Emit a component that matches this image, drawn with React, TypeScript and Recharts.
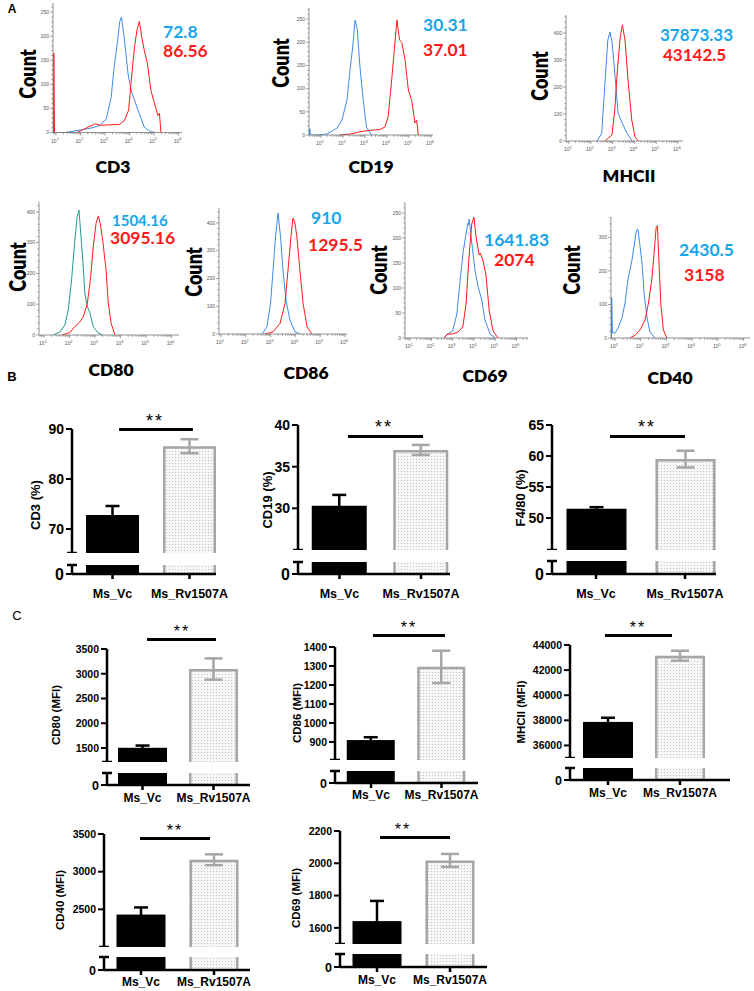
import React from 'react';
import { LineChart, Line, XAxis, YAxis, BarChart, Bar, ErrorBar } from 'recharts';

type Pt = [number, number];

// ---------------- Panel A : flow histograms, points are [log10(fluorescence), count]
const cd3Vc: Pt[] = [[0.88,0],[1.37,0],[2.1,6],[2.5,10],[2.8,15],[3.05,28],[3.25,73],[3.37,135],[3.5,185],[3.6,230],[3.67,240],[3.78,198],[3.94,122],[4.06,88],[4.35,46],[4.6,11],[4.85,2],[5.05,0]];
const cd3Rv: Pt[] = [[0.9,0],[0.91,165],[0.94,0],[1.86,0],[2.26,10],[2.6,18],[2.8,15],[3.2,16],[3.6,17],[3.8,25],[3.96,46],[4.06,102],[4.2,177],[4.3,212],[4.4,231],[4.5,198],[4.6,171],[4.73,143],[4.87,88],[5.02,60],[5.16,35],[5.22,40],[5.28,0]];
const cd19Vc: Pt[] = [[0.48,0],[0.49,14],[0.52,0],[0.8,0],[1.27,2],[1.73,15],[1.95,32],[2.18,75],[2.32,140],[2.44,190],[2.55,248],[2.65,228],[2.77,147],[2.92,75],[3.07,17],[3.3,0]];
const cd19Rv: Pt[] = [[1.86,0],[2.32,2],[2.77,7],[3.23,10],[3.68,12],[3.9,17],[4.05,39],[4.2,112],[4.33,183],[4.45,248],[4.57,205],[4.67,200],[4.82,162],[4.97,97],[5.12,75],[5.27,26],[5.35,32],[5.42,0]];
const mhcVc: Pt[] = [[2.28,0],[2.5,28],[2.65,215],[2.78,374],[2.88,404],[2.98,363],[3.1,252],[3.25,104],[3.38,78],[3.48,60],[3.65,30],[3.9,0]];
const mhcRv: Pt[] = [[2.65,0],[2.97,22],[3.1,115],[3.23,274],[3.35,385],[3.45,430],[3.57,374],[3.72,215],[3.88,78],[4.03,15],[4.18,0]];
const cd80Vc: Pt[] = [[1.36,0],[1.63,10],[1.82,33],[1.95,81],[2.08,179],[2.2,299],[2.3,384],[2.37,406],[2.41,363],[2.52,244],[2.6,137],[2.7,91],[2.8,72],[2.93,27],[3.13,6],[3.3,0]];
const cd80Rv: Pt[] = [[1.7,0],[2.02,8],[2.2,27],[2.4,42],[2.54,59],[2.7,103],[2.83,190],[2.93,287],[3.04,363],[3.13,387],[3.2,363],[3.3,309],[3.43,212],[3.52,103],[3.63,38],[3.78,0]];
const cd86Vc: Pt[] = [[2.65,0],[2.85,25],[3.0,112],[3.1,232],[3.2,352],[3.3,436],[3.4,350],[3.5,230],[3.62,122],[3.78,50],[3.98,8],[4.18,0]];
const cd86Rv: Pt[] = [[2.78,0],[3.1,8],[3.38,38],[3.58,110],[3.7,230],[3.82,350],[3.9,418],[3.98,400],[4.06,350],[4.18,230],[4.31,110],[4.47,25],[4.67,0]];
const cd69Vc: Pt[] = [[2.6,0],[2.78,8],[3.0,14],[3.2,48],[3.35,114],[3.5,174],[3.67,218],[3.72,230],[3.75,226],[3.78,238],[3.9,190],[4.05,136],[4.2,102],[4.37,76],[4.52,36],[4.76,8],[5.0,0]];
const cd69Rv: Pt[] = [[2.6,0],[2.75,8],[3.0,8],[3.25,12],[3.48,22],[3.63,68],[3.78,168],[3.9,228],[4.0,242],[4.1,202],[4.25,166],[4.3,170],[4.42,156],[4.56,128],[4.72,54],[4.9,14],[5.13,0]];
const cd40Vc: Pt[] = [[0.86,0],[0.87,120],[0.9,15],[1.0,15],[1.12,30],[1.27,60],[1.39,104],[1.5,173],[1.66,233],[1.74,272],[1.82,316],[1.87,325],[1.9,322],[1.93,302],[2.05,224],[2.13,134],[2.24,63],[2.36,18],[2.56,0]];
const cd40Rv: Pt[] = [[1.58,0],[1.78,8],[1.97,24],[2.17,54],[2.3,104],[2.43,173],[2.52,253],[2.6,331],[2.65,335],[2.7,243],[2.78,104],[2.88,24],[3.02,0]];

const histTitles = ['CD3', 'CD19', 'MHCII', 'CD80', 'CD86', 'CD69', 'CD40'];
const mfiVc = ['72.8', '30.31', '37873.33', '1504.16', '910', '1641.83', '2430.5'];
const mfiRv = ['86.56', '37.01', '43142.5', '3095.16', '1295.5', '2074', '3158'];

// ---------------- Panels B & C : bar charts
const groups = ['Ms_Vc', 'Ms_Rv1507A'];
const cd3Pct = [72.8, 86.56];
const cd3PctErr = [1.8, 1.4];
const cd19Pct = [30.31, 37.01];
const cd19PctErr = [1.3, 0.6];
const f480Pct = [51.5, 59.5];
const f480PctErr = [0.25, 1.35];
const cd80Mfi = [1504.16, 3095.16];
const cd80MfiErr = [45, 215];
const cd86Mfi = [910, 1295.5];
const cd86MfiErr = [15, 85];
const mhcMfi = [37873.33, 43142.5];
const mhcMfiErr = [330, 400];
const cd40Mfi = [2430.5, 3158];
const cd40MfiErr = [95, 72];
const cd69Mfi = [1641.83, 2018];
const cd69MfiErr = [125, 40];

const ARIAL = "'Liberation Sans', Arial, sans-serif";
const LATO = "Lato, 'Open Sans', sans-serif";
const BLUE_TXT = '#17A6EA';
const RED = '#FF1A1A';
const BLUE_LINE = '#3A8BEA';
const TEAL = '#1D9C8D';
const GRAY = '#A6A6A6';

const logTicks = (lo: number, hi: number) => {
  const out: number[] = [];
  for (let n = Math.floor(lo); n <= Math.ceil(hi); n++) {
    for (let k = 1; k <= 9; k++) {
      const v = n + Math.log10(k);
      if (v >= lo && v <= hi) out.push(v);
    }
  }
  return out;
};
const linTicks = (max: number, step: number) => {
  const out: number[] = [];
  for (let v = 0; v <= max + 1e-9; v += step) out.push(v);
  return out;
};
const toXY = (p: Pt) => ({ x: p[0], y: p[1] });

const histXTick = (p: any) => {
  const v = p.payload.value;
  const major = Math.abs(v - Math.round(v)) < 1e-6;
  return (
    <g>
      <line x1={p.x} x2={p.x} y1={p.y} y2={p.y + (major ? 3 : 1.8)} stroke="#777" strokeWidth={0.7} />
      {major && (
        <text x={p.x - 1} y={p.y + 10} textAnchor="middle" fontSize={5} fill="#555" fontFamily={ARIAL}>
          10<tspan dy={-2.5} fontSize={4}>{Math.round(v)}</tspan>
        </text>
      )}
    </g>
  );
};
const histYTick = (major: number) => (p: any) => {
  const v = p.payload.value;
  const isMajor = Math.abs(v / major - Math.round(v / major)) < 1e-6;
  return (
    <g>
      <line x1={p.x} x2={p.x - (isMajor ? 3 : 1.6)} y1={p.y} y2={p.y} stroke="#777" strokeWidth={0.7} />
      {isMajor && (
        <text x={p.x - 4} y={p.y} dy="0.35em" textAnchor="end" fontSize={5} fill="#555" fontFamily={ARIAL}>
          {v}
        </text>
      )}
    </g>
  );
};

type HistCfg = {
  vc: Pt[]; rv: Pt[]; vcColor: string;
  x0: number; x1: number; yTop: number; yBot: number;
  logLo: number; logHi: number; yMax: number; yStep: number; yMinor: number;
  count: [number, number]; title: [number, number];
  nVc: [number, number, number]; nRv: [number, number, number];
};

const hists: HistCfg[] = [
  { vc: cd3Vc, rv: cd3Rv, vcColor: BLUE_LINE, x0: 53, x1: 182, yTop: 3, yBot: 132.5, logLo: 0.878, logHi: 6.14, yMax: 269, yStep: 50, yMinor: 10, count: [27, 74], title: [113, 167], nVc: [163, 32, 17.5], nRv: [163, 51, 17.5] },
  { vc: cd19Vc, rv: cd19Rv, vcColor: BLUE_LINE, x0: 309, x1: 433, yTop: 8, yBot: 135, logLo: 0.455, logHi: 6.09, yMax: 274, yStep: 50, yMinor: 10, count: [280, 63], title: [371, 167], nVc: [423, 25, 17.5], nRv: [423, 50, 17.5] },
  { vc: mhcVc, rv: mhcRv, vcColor: BLUE_LINE, x0: 566, x1: 683, yTop: 15, yBot: 141, logLo: 0.862, logHi: 6.23, yMax: 467, yStep: 100, yMinor: 20, count: [539, 76], title: [629, 176], nVc: [660, 34, 17], nRv: [663, 54, 17] },
  { vc: cd80Vc, rv: cd80Rv, vcColor: TEAL, x0: 39, x1: 179, yTop: 202, yBot: 335, logLo: 0.804, logHi: 6.29, yMax: 432, yStep: 100, yMinor: 20, count: [17, 267], title: [111, 370], nVc: [112, 220, 15], nRv: [110, 238, 17.5] },
  { vc: cd86Vc, rv: cd86Rv, vcColor: BLUE_LINE, x0: 219, x1: 347, yTop: 208, yBot: 334, logLo: 0.919, logHi: 6.08, yMax: 454, yStep: 100, yMinor: 20, count: [193, 272], title: [306, 373], nVc: [311, 218, 17.5], nRv: [308, 245, 17.5] },
  { vc: cd69Vc, rv: cd69Rv, vcColor: BLUE_LINE, x0: 405, x1: 528, yTop: 203, yBot: 338, logLo: 0.765, logHi: 6.54, yMax: 270, yStep: 50, yMinor: 10, count: [378, 270], title: [485, 376], nVc: [484, 240, 17.5], nRv: [494, 260, 17.5] },
  { vc: cd40Vc, rv: cd40Rv, vcColor: BLUE_LINE, x0: 611, x1: 750, yTop: 217, yBot: 338, logLo: 0.844, logHi: 6.25, yMax: 361, yStep: 100, yMinor: 20, count: [571, 270], title: [670, 378], nVc: [679, 250, 17.5], nRv: [684, 275, 17.5] },
];

function VText({ x, y, children, style }: any) {
  return (
    <div style={{ position: 'absolute', left: x, top: y, transform: 'translate(-50%,-50%) rotate(-90deg)', whiteSpace: 'nowrap', lineHeight: 1, ...style }}>
      {children}
    </div>
  );
}
function CText({ x, y, children, style }: any) {
  return (
    <div style={{ position: 'absolute', left: x, top: y, transform: 'translate(-50%,-50%)', whiteSpace: 'nowrap', lineHeight: 1, ...style }}>
      {children}
    </div>
  );
}
function LText({ x, y, children, style }: any) {
  return (
    <div style={{ position: 'absolute', left: x, top: y, transform: 'translateY(-50%)', whiteSpace: 'nowrap', lineHeight: 1, ...style }}>
      {children}
    </div>
  );
}

function Hist({ c, i }: { c: HistCfg; i: number }) {
  const YW = 22, XH = 16, MT = 4, MR = 3;
  const w = YW + (c.x1 - c.x0) + MR;
  const h = MT + (c.yBot - c.yTop) + XH;
  return (
    <>
      <div style={{ position: 'absolute', left: c.x0 - YW, top: c.yTop - MT }}>
        <LineChart width={w} height={h} margin={{ top: MT, right: MR, left: 0, bottom: 0 }}>
          <XAxis type="number" dataKey="x" domain={[c.logLo, c.logHi]} allowDataOverflow ticks={logTicks(c.logLo, c.logHi)} interval={0}
            tick={histXTick} tickLine={false} tickSize={0} tickMargin={0} height={XH} axisLine={{ stroke: '#777', strokeWidth: 0.8 }} />
          <YAxis type="number" domain={[0, c.yMax]} allowDataOverflow ticks={linTicks(c.yMax, c.yMinor)} interval={0}
            tick={histYTick(c.yStep)} tickLine={false} tickSize={0} tickMargin={0} width={YW} axisLine={{ stroke: '#777', strokeWidth: 0.8 }} />
          <Line data={c.vc.map(toXY)} dataKey="y" type="linear" stroke={c.vcColor} strokeWidth={1} dot={false} isAnimationActive={false} />
          <Line data={c.rv.map(toXY)} dataKey="y" type="linear" stroke={RED} strokeWidth={1} dot={false} isAnimationActive={false} />
        </LineChart>
      </div>
      <VText x={c.count[0]} y={c.count[1]} style={{ fontFamily: LATO, fontWeight: 800, fontSize: 18, transform: 'translate(-50%,-50%) rotate(-90deg) scaleY(1.3)' }}>Count</VText>
      <CText x={c.title[0]} y={c.title[1]} style={{ fontFamily: LATO, fontWeight: 800, fontSize: 17.5 }}>{histTitles[i]}</CText>
      <LText x={c.nVc[0]} y={c.nVc[1]} style={{ fontFamily: LATO, fontWeight: 700, fontSize: c.nVc[2], color: BLUE_TXT }}>{mfiVc[i]}</LText>
      <LText x={c.nRv[0]} y={c.nRv[1]} style={{ fontFamily: LATO, fontWeight: 700, fontSize: c.nRv[2], color: RED }}>{mfiRv[i]}</LText>
    </>
  );
}

type BarCfg = {
  label: string; vals: number[]; errs: number[];
  axisX: number; c1: number; c2: number; xEnd: number; barSize: number;
  upTop: number; upBot: number; upDomain: [number, number]; upTicks: number[];
  loTop: number; loBase: number;
  tickFs: number; catFs: number; catOff: number;
  yLab: [number, number, number, number]; sig: [number, number, number]; stars: [number, number, number];
};

const bars: BarCfg[] = [
  { label: 'CD3 (%)', vals: cd3Pct, errs: cd3PctErr, axisX: 72, c1: 112.5, c2: 189.5, xEnd: 216, barSize: 53, upTop: 429, upBot: 553, upDomain: [65.2, 90], upTicks: [70, 80, 90], loTop: 565, loBase: 574, tickFs: 14, catFs: 12.5, catOff: 19, yLab: [35, 505, 13, 700], sig: [119, 193, 429], stars: [155, 421, 18] },
  { label: 'CD19 (%)', vals: cd19Pct, errs: cd19PctErr, axisX: 298, c1: 339.5, c2: 421, xEnd: 450, barSize: 55, upTop: 425, upBot: 550, upDomain: [25, 40], upTicks: [30, 35, 40], loTop: 562, loBase: 574, tickFs: 14, catFs: 12.5, catOff: 19, yLab: [267, 500, 13, 700], sig: [348, 423, 436], stars: [384, 427, 18] },
  { label: 'F4/80 (%)', vals: f480Pct, errs: f480PctErr, axisX: 552, c1: 596, c2: 685, xEnd: 716, barSize: 60, upTop: 425, upBot: 550, upDomain: [44.84, 65], upTicks: [50, 55, 60, 65], loTop: 561, loBase: 574, tickFs: 14, catFs: 12.5, catOff: 19, yLab: [520, 498, 13, 700], sig: [610, 685, 436], stars: [647, 427, 18] },
  { label: 'CD80 (MFI)', vals: cd80Mfi, errs: cd80MfiErr, axisX: 107, c1: 142.5, c2: 213.5, xEnd: 250, barSize: 49, upTop: 649, upBot: 762, upDomain: [1217, 3500], upTicks: [1500, 2000, 2500, 3000, 3500], loTop: 773, loBase: 785, tickFs: 10.5, catFs: 12, catOff: 13, yLab: [57, 715, 11.5, 700], sig: [147, 216, 639], stars: [182, 632, 16] },
  { label: 'CD86 (MFI)', vals: cd86Mfi, errs: cd86MfiErr, axisX: 335, c1: 371, c2: 441.5, xEnd: 478, barSize: 48, upTop: 647, upBot: 760, upDomain: [805, 1400], upTicks: [900, 1000, 1100, 1200, 1300, 1400], loTop: 771, loBase: 783, tickFs: 10.5, catFs: 12, catOff: 12, yLab: [298, 713, 11.5, 700], sig: [373, 445, 635], stars: [409, 628, 16] },
  { label: 'MHCII (MFI)', vals: mhcMfi, errs: mhcMfiErr, axisX: 570, c1: 608, c2: 680, xEnd: 730, barSize: 50, upTop: 645, upBot: 758, upDomain: [35000, 44000], upTicks: [36000, 38000, 40000, 42000, 44000], loTop: 768, loBase: 780, tickFs: 10.5, catFs: 12, catOff: 13, yLab: [522, 712, 11.5, 700], sig: [605, 672, 635], stars: [638, 628, 16] },
  { label: 'CD40 (MFI)', vals: cd40Mfi, errs: cd40MfiErr, axisX: 104, c1: 141, c2: 214, xEnd: 250, barSize: 49, upTop: 834, upBot: 947, upDomain: [2000, 3500], upTicks: [2500, 3000, 3500], loTop: 957, loBase: 970, tickFs: 10.5, catFs: 12, catOff: 12, yLab: [61, 900, 11.5, 700], sig: [140, 210, 838], stars: [175, 831, 16] },
  { label: 'CD69 (MFI)', vals: cd69Mfi, errs: cd69MfiErr, axisX: 340, c1: 377, c2: 450, xEnd: 487, barSize: 49, upTop: 831, upBot: 944, upDomain: [1500, 2200], upTicks: [1600, 1800, 2000, 2200], loTop: 954, loBase: 967, tickFs: 10.5, catFs: 12, catOff: 13, yLab: [297, 898, 11.5, 700], sig: [380, 450, 837], stars: [403, 830, 16] },
];

const barShape = (p: any) => {
  const { x, y, width, height, payload } = p;
  if (!(height > 0)) return <g />;
  if (payload && payload.g === groups[0]) {
    return <rect x={x} y={y} width={width} height={height} fill="#000" />;
  }
  const s = 1.25;
  const d = `M${x + s},${y + height} L${x + s},${y + s} L${x + width - s},${y + s} L${x + width - s},${y + height}`;
  return (
    <g>
      <rect x={x} y={y} width={width} height={height} fill="url(#dotfill)" />
      <path d={d} fill="none" stroke={GRAY} strokeWidth={2.5} />
    </g>
  );
};

const barYTick = (breakVal: number, fs: number) => (p: any) => {
  const v = p.payload.value;
  if (Math.abs(v - breakVal) < 1e-9) {
    return <line x1={p.x - 5} x2={p.x + 5} y1={p.y} y2={p.y} stroke="#000" strokeWidth={2.5} />;
  }
  return (
    <g>
      <line x1={p.x} x2={p.x - 6} y1={p.y} y2={p.y} stroke="#000" strokeWidth={2} />
      <text x={p.x - 8} y={p.y} dy="0.36em" textAnchor="end" fontSize={fs} fontWeight="bold" fontFamily={ARIAL} fill="#000">
        {v}
      </text>
    </g>
  );
};
const barXTick = (fs: number, off: number) => (p: any) => (
  <g>
    <line x1={p.x} x2={p.x} y1={p.y} y2={p.y + 5} stroke="#000" strokeWidth={2.5} />
    <text x={p.x} y={p.y + off} dy="0.36em" textAnchor="middle" fontSize={fs} fontWeight="bold" fontFamily={ARIAL} fill="#000">
      {p.payload.value}
    </text>
  </g>
);

function BrokenBar({ c }: { c: BarCfg }) {
  const YW = 60, MT = 12, MR = 40, XH = 34, LO = 1;
  const bw = c.c2 - c.c1;
  const padL = c.c1 - bw / 2 - c.axisX;
  const padR = c.xEnd - (c.c2 + bw / 2);
  const rows = groups.map((g, i) => ({
    g,
    v: c.vals[i],
    eVc: i === 0 ? c.errs[0] : undefined,
    eRv: i === 1 ? c.errs[1] : undefined,
  }));
  const W = YW + (c.xEnd - c.axisX) + MR;
  return (
    <>
      <div style={{ position: 'absolute', left: c.axisX - YW, top: c.upTop - MT }}>
        <BarChart width={W} height={MT + (c.upBot - c.upTop)} data={rows} margin={{ top: MT, right: MR, left: 0, bottom: 0 }}>
          <XAxis dataKey="g" hide padding={{ left: padL, right: padR }} />
          <YAxis type="number" width={YW} domain={c.upDomain} allowDataOverflow ticks={[c.upDomain[0], ...c.upTicks]} interval={0}
            tick={barYTick(c.upDomain[0], c.tickFs)} tickLine={false} tickSize={0} tickMargin={0} axisLine={{ stroke: '#000', strokeWidth: 2.5 }} />
          <Bar dataKey="v" barSize={c.barSize} shape={barShape} isAnimationActive={false}>
            <ErrorBar dataKey="eVc" width={7} stroke="#000" strokeWidth={2.5} />
            <ErrorBar dataKey="eRv" width={9} stroke={GRAY} strokeWidth={2.5} />
          </Bar>
        </BarChart>
      </div>
      <div style={{ position: 'absolute', left: c.axisX - YW, top: c.loTop - MT }}>
        <BarChart width={W} height={MT + (c.loBase - c.loTop) + XH} data={rows} margin={{ top: MT, right: MR, left: 0, bottom: 0 }}>
          <XAxis dataKey="g" padding={{ left: padL, right: padR }} height={XH} interval={0} tick={barXTick(c.catFs, c.catOff)}
            tickLine={false} tickSize={0} tickMargin={0} axisLine={{ stroke: '#000', strokeWidth: 2.5 }} />
          <YAxis type="number" width={YW} domain={[0, LO]} allowDataOverflow ticks={[0, LO]} interval={0}
            tick={barYTick(LO, c.tickFs + 2)} tickLine={false} tickSize={0} tickMargin={0} axisLine={{ stroke: '#000', strokeWidth: 2.5 }} />
          <Bar dataKey="v" barSize={c.barSize} shape={barShape} isAnimationActive={false} />
        </BarChart>
      </div>
      <VText x={c.yLab[0]} y={c.yLab[1]} style={{ fontFamily: ARIAL, fontSize: c.yLab[2], fontWeight: c.yLab[3] }}>{c.label}</VText>
      <div style={{ position: 'absolute', left: c.sig[0], top: c.sig[2] - 1.5, width: c.sig[1] - c.sig[0], height: 3, background: '#000' }} />
      <CText x={c.stars[0]} y={c.stars[1]} style={{ fontFamily: ARIAL, fontSize: c.stars[2], letterSpacing: 2 }}>**</CText>
    </>
  );
}

export default function App() {
  return (
    <div style={{ position: 'absolute', left: 0, top: 0, width: 754, height: 991, background: '#fff', overflow: 'hidden' }}>
      <svg width={0} height={0} style={{ position: 'absolute' }}>
        <defs>
          <pattern id="dotfill" width={3} height={3} patternUnits="userSpaceOnUse">
            <rect width={3} height={3} fill="#F7F7F7" />
            <rect x={1} y={1} width={1} height={1} fill="#C2C2C2" />
          </pattern>
        </defs>
      </svg>
      <CText x={12} y={9} style={{ fontFamily: ARIAL, fontWeight: 700, fontSize: 12 }}>A</CText>
      <CText x={12} y={376} style={{ fontFamily: ARIAL, fontWeight: 700, fontSize: 13 }}>B</CText>
      <CText x={17} y={615} style={{ fontFamily: ARIAL, fontSize: 13 }}>C</CText>
      {hists.map((h, i) => <Hist key={i} c={h} i={i} />)}
      {bars.map((b, i) => <BrokenBar key={i} c={b} />)}
    </div>
  );
}
